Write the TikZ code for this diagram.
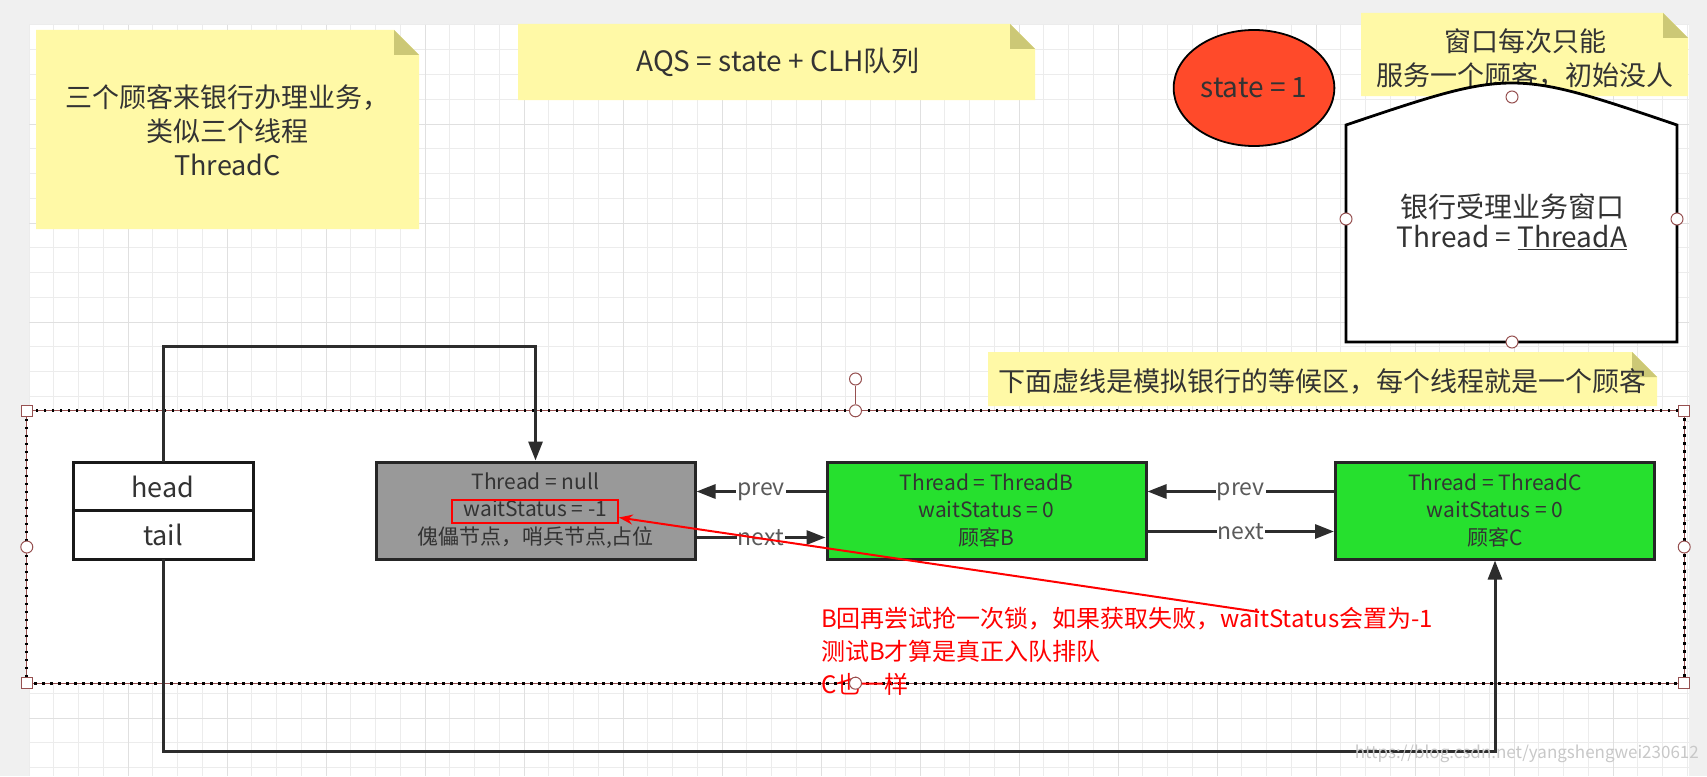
\documentclass[tikz,border=0pt]{standalone}
\usepackage{fontspec}
\setmainfont{Noto Sans CJK SC}
\usetikzlibrary{arrows.meta}
\usetikzlibrary{shapes.geometric}

\definecolor{canvasgray}{RGB}{240,240,240}
\definecolor{gridcol}{RGB}{236,236,236}
\definecolor{gridboldcol}{RGB}{224,224,224}
\definecolor{noteyellow}{RGB}{255,249,166}
\definecolor{notefold}{RGB}{204,200,118}
\definecolor{inktext}{RGB}{51,51,51}
\definecolor{labeltext}{RGB}{90,90,90}
\definecolor{statered}{RGB}{255,74,42}
\definecolor{nodegreen}{RGB}{38,224,46}
\definecolor{nodegray}{RGB}{153,153,153}
\definecolor{handlered}{RGB}{150,80,80}
\definecolor{linkgray}{RGB}{45,45,45}
\definecolor{markgray}{RGB}{200,200,200}

\def\fsnote{\fontsize{27}{34}\selectfont}
\def\fstitle{\fontsize{28}{34}\selectfont}
\def\fswin{\fontsize{28}{30}\selectfont}
\def\fsfield{\fontsize{27}{32}\selectfont}
\def\fsbox{\fontsize{21}{27.5}\selectfont}
\def\fslink{\fontsize{23}{27}\selectfont}
\def\fsred{\fontsize{24}{33}\selectfont}
\def\fsmark{\fontsize{17}{20}\selectfont}

\tikzset{gridline/.style={draw=gridcol, line width=1pt}}
\tikzset{gridbold/.style={draw=gridboldcol, line width=1pt}}

\tikzset{pics/notepaper/.style 2 args={code={
           \fill[noteyellow] ({-#1/2},{-#2/2}) -- ({#1/2-25},{-#2/2}) -- ({#1/2},{-#2/2+25})
                             -- ({#1/2},{#2/2}) -- ({-#1/2},{#2/2}) -- cycle;
           \fill[notefold] ({#1/2-25},{-#2/2}) -- ({#1/2-25},{-#2/2+25}) -- ({#1/2},{-#2/2+25}) -- cycle;}}
        }

\tikzset{notetext/.style={align=center, text=inktext, font=\fsnote, inner sep=0pt}}
\tikzset{statebubble/.style={ellipse, draw=black, line width=1.8pt, fill=statered, text=inktext,
                             minimum width=154, minimum height=116, font=\fstitle}}
\tikzset{windowline/.style={draw=black, line width=2.8pt, fill=white, line join=miter}}
\tikzset{waitarea/.style={rectangle, fill=white, minimum width=1657, minimum height=272, inner sep=0pt}}
\tikzset{dotline/.style={draw=black, line width=2.8pt, dash pattern=on 2.6pt off 5.4pt}}
\tikzset{fieldbox/.style={rectangle, draw=black!90, line width=3pt, fill=white, text=inktext, outer sep=0pt,
                          minimum width=180, minimum height=48.5, inner sep=0pt, font=\fsfield}}
\tikzset{qnode/.style={rectangle, draw=black!85, line width=3pt, text=inktext, align=center,
                       minimum width=319, minimum height=97, inner sep=0pt, font=\fsbox}}
\tikzset{link/.style={draw=linkgray, line width=3pt, -{Triangle[length=19pt,width=14pt]}}}
\tikzset{linklabel/.style={fill=white, inner sep=1pt, text=labeltext, font=\fslink}}
\tikzset{redbox/.style={rectangle, draw=red, line width=1.6pt, minimum width=166, minimum height=23, inner sep=0pt}}
\tikzset{redtext/.style={align=left, text=red, font=\fsred, inner sep=0pt}}
\tikzset{redlink/.style={draw=red, line width=2pt, -{Stealth[length=14pt,width=10pt]}}}
\tikzset{handle/.style={circle, draw=handlered, fill=white, line width=1pt, minimum size=12, inner sep=0pt}}
\tikzset{cornerhandle/.style={rectangle, draw=handlered, fill=white, line width=1pt, minimum size=11, inner sep=0pt}}
\tikzset{watermark/.style={text=markgray, font=\fsmark, inner sep=0pt}}

\begin{document}
\begin{tikzpicture}[x=1pt, y=-1pt]

\useasboundingbox (0,0) rectangle (1707,776);

%canvas
\fill[canvasgray] (0,0) rectangle (1707,776);
\fill[white] (29,25) rectangle (1689,776);

%grid
\foreach \i in {0,...,67} \draw[gridline] ({29+24.75*\i},25) -- ({29+24.75*\i},776);
\foreach \i in {0,...,30} \draw[gridline] (29,{25+24.75*\i}) -- (1689,{25+24.75*\i});
\foreach \i in {1,...,16} \draw[gridbold] ({29+99*\i},25) -- ({29+99*\i},776);
\foreach \i in {1,...,7}  \draw[gridbold] (29,{25+99*\i}) -- (1689,{25+99*\i});

%notes on top
\pic at ( 227.5, 129.5) {notepaper={383}{199}};
\node[notetext] (notecust) at ( 227.5, 130.5) {三个顾客来银行办理业务，\\类似三个线程\\ThreadC};

\pic at ( 776.5,  62.0) {notepaper={517}{76}};
\node[notetext, font=\fstitle] (noteaqs) at ( 778.0,  62.0) {AQS = state + CLH队列};

\pic at (1524.5,  54.5) {notepaper={327}{83}};
\node[notetext] (notewin) at (1525.0,  59.0) {窗口每次只能\\服务一个顾客，初始没人};

%state
\node[statebubble] (state) at (1254, 88) {state = 1};

%bank window
\draw[windowline] (1346,342) -- (1346,125) .. controls (1512,69) .. (1677,125) -- (1677,342) -- cycle;
\node[notetext, font=\fswin] (window) at (1512,222) {银行受理业务窗口\\Thread = \underline{ThreadA}};

\node[handle] (wintop)    at (1512, 97) {};
\node[handle] (winleft)   at (1346,219) {};
\node[handle] (winright)  at (1677,219) {};
\node[handle] (winbottom) at (1512,342) {};

%waiting room
\pic at (1322.5, 379.0) {notepaper={669}{54}};
\node[notetext] (notewait) at (1322.5, 381.0) {下面虚线是模拟银行的等候区，每个线程就是一个顾客};

\node[waitarea] (waitarea) at (855.5,547) {};
\draw[handlered, line width=0.8pt] (waitarea.north west) rectangle (waitarea.south east);
\draw[dotline] (waitarea.north west) rectangle (waitarea.south east);

%head and tail
\node[fieldbox] (head) at (163,486.5) {head};
\node[fieldbox, anchor=north] (tail) at (head.south) {tail};

%queue nodes
\node[qnode, fill=nodegray]  (nullnode) at ( 535.5,510.5) {Thread = null\\waitStatus = -1\\傀儡节点，哨兵节点,占位};
\node[qnode, fill=nodegreen] (nodeB)    at ( 986.5,510.5) {Thread = ThreadB\\waitStatus = 0\\顾客B};
\node[qnode, fill=nodegreen] (nodeC)    at (1495.0,510.5) {Thread = ThreadC\\waitStatus = 0\\顾客C};

\node[redbox] (redbox) at (535,511.5) {};

%links
\draw[link] (head.north) -- ++(0,-116) -| (nullnode.north);
\draw[link] (tail.south) -- ++(0, 192) -| (nodeC.south);

\draw[link] ([yshift= 19]nodeB.west)    -- node[linklabel] (prevnull) {prev} ([yshift= 19]nullnode.east);
\draw[link] ([yshift=-27]nullnode.east) -- node[linklabel] (nextb)    {next} ([yshift=-27]nodeB.west);
\draw[link] ([yshift= 19]nodeC.west)    -- node[linklabel] (prevb)    {prev} ([yshift= 19]nodeB.east);
\draw[link] ([yshift=-21]nodeB.east)    -- node[linklabel] (nextc)    {next} ([yshift=-21]nodeC.west);

%remark in red
\node[redtext, anchor=north west] (redtext) at (821,607) {B回再尝试抢一次锁，如果获取失败，waitStatus会置为-1\\测试B才算是真正入队排队\\C也一样};
\coordinate (redstart) at (1259,612);
\draw[redlink] (redstart) -- ([yshift=-6]redbox.east);

%selection handles
\node[cornerhandle] (areanw) at (waitarea.north west) {};
\node[cornerhandle] (areane) at (waitarea.north east) {};
\node[cornerhandle] (areasw) at (waitarea.south west) {};
\node[cornerhandle] (arease) at (waitarea.south east) {};
\node[handle] (areaw) at (waitarea.west) {};
\node[handle] (areae) at (waitarea.east) {};
\node[handle] (arean) at (waitarea.north) {};
\node[handle] (areas) at (waitarea.south) {};
\node[handle] (arearot) at (855.5,379) {};
\draw[handlered, line width=1pt] (arearot) -- (arean);

%watermark
\node[watermark, anchor=east] (mark) at (1699,754) {https://blog.csdn.net/yangshengwei230612};

\end{tikzpicture}
\end{document}
